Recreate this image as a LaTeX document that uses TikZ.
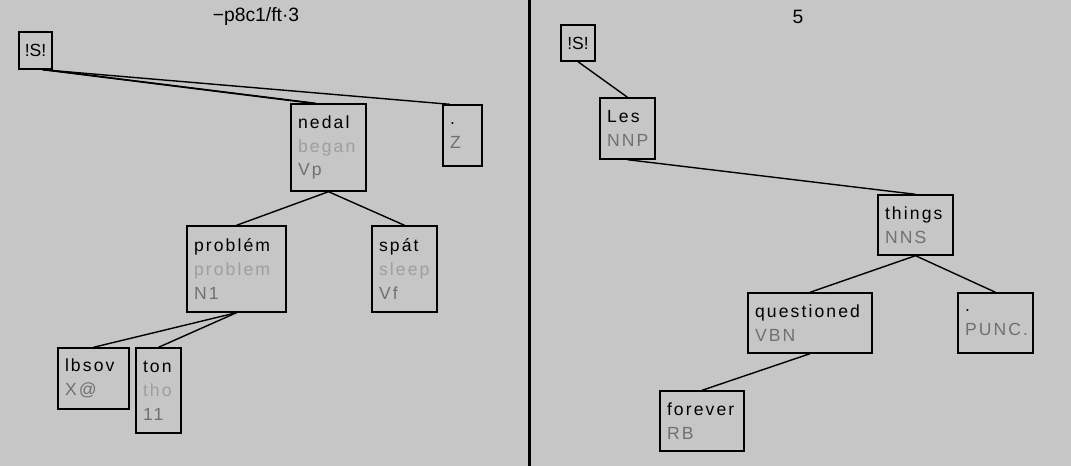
\documentclass[tikz,border=0pt]{standalone}
\usepackage{fontspec}
\setmainfont{Liberation Sans}
\newfontfamily\treefont[LetterSpace=12]{Liberation Sans}

\definecolor{panelbg}{RGB}{198,198,198}
\definecolor{glossgray}{RGB}{158,158,158}
\definecolor{taggray}{RGB}{112,112,112}

\newcommand{\glosstxt}[1]{\textcolor{glossgray}{#1}}
\newcommand{\tagtxt}[1]{\textcolor{taggray}{#1}}

\begin{document}
\begin{tikzpicture}[
        x=0.02cm, y=-0.02cm,
        tok/.style={draw, rectangle, line width=0.8pt, align=left, inner xsep=4pt, inner ysep=0pt, font=\treefont\fontsize{10}{13.6}\selectfont},
        rootbox/.style={draw, rectangle, line width=0.8pt, inner sep=2pt, font=\fontsize{10}{12}\selectfont},
        link/.style={line width=0.8pt},
        title/.style={font=\fontsize{11}{13}\selectfont}
    ]
    % --- background and divider ---
    \fill[panelbg] (0,0) rectangle (1071,466);
    \useasboundingbox (0,0) rectangle (1071,466);
    \fill[black] (528,0) rectangle (531,466);

    % --- LEFT TREE ---
    \node[title] (titleL) at (256,17) {−p8c1/ft·3};
    \node[rootbox, minimum width=0.66cm, minimum height=0.74cm] (rootL) at (35.5,50.5) {!S!};
    \node[tok, text width=1.22cm, minimum height=1.74cm] (nedal) at (328.5,147.5) {nedal\\\glosstxt{began}\\\tagtxt{Vp}};
    \node[tok, text width=0.50cm, minimum height=1.22cm] (dotZ) at (462.5,135.5) {.\\\tagtxt{Z}};
    \node[tok, text width=1.70cm, minimum height=1.72cm] (problem) at (236.5,269) {problém\\\glosstxt{problem}\\\tagtxt{N1}};
    \node[tok, text width=1.02cm, minimum height=1.72cm] (spat) at (404.5,269) {spát\\\glosstxt{sleep}\\\tagtxt{Vf}};
    \node[tok, text width=1.14cm, minimum height=1.22cm] (lbsov) at (93.5,378.5) {lbsov\\\tagtxt{X@}};
    \node[tok, text width=0.62cm, minimum height=1.70cm] (ton) at (158.5,390.5) {ton\\\glosstxt{tho}\\\tagtxt{11}};

    \draw[link] (rootL.-70) -- (nedal.110);
    \draw[link] (rootL.-62) -- (nedal.106);
    \draw[link] (rootL.-70) -- (dotZ.112);
    \draw[link] (nedal.south) -- (problem.north);
    \draw[link] (nedal.south) -- (spat.north);
    \draw[link] (problem.south) -- (lbsov.north);
    \draw[link] (problem.south) -- (ton.north);

    % --- RIGHT TREE ---
    \node[title] (titleR) at (798,17) {5};
    \node[rootbox, minimum width=0.68cm, minimum height=0.72cm] (rootR) at (578,43) {!S!};
    \node[tok, text width=0.82cm, minimum height=1.22cm] (les) at (627.5,128.5) {Les\\\tagtxt{NNP}};
    \node[tok, text width=1.22cm, minimum height=1.20cm] (things) at (915.5,225) {things\\\tagtxt{NNS}};
    \node[tok, text width=2.20cm, minimum height=1.20cm] (quest) at (810,323) {questioned\\\tagtxt{VBN}};
    \node[tok, text width=1.22cm, minimum height=1.20cm] (punc) at (995.5,323) {.\\\tagtxt{PUNC.}};
    \node[tok, text width=1.40cm, minimum height=1.20cm] (forever) at (702,421) {forever\\\tagtxt{RB}};

    \draw[link] (rootR.south) -- (les.north);
    \draw[link] (les.south) -- (things.north);
    \draw[link] (things.south) -- (quest.north);
    \draw[link] (things.south) -- (punc.north);
    \draw[link] (quest.south) -- (forever.north);

\end{tikzpicture}
\end{document}
